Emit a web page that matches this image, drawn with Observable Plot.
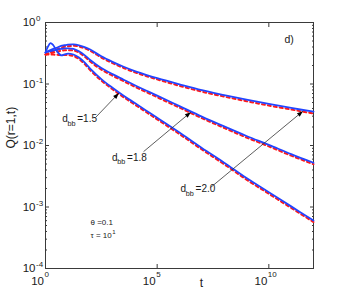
<!DOCTYPE html>
<html><head><meta charset="utf-8">
<script src="https://cdn.jsdelivr.net/npm/d3@7"></script>
<script src="https://cdn.jsdelivr.net/npm/@observablehq/plot@0.6"></script>
<style>body{margin:0;background:#fff} svg{display:block}</style>
</head><body><div id="chart"></div>
<script>
// log10(t) sample points
const logT = [0, 0.1, 0.22, 0.35, 0.5, 0.7, 0.85, 1.0, 1.25, 1.5, 1.75, 2, 2.5, 3, 3.5, 4, 4.5, 5, 6, 7, 8, 9, 10, 11, 12];
// log10 Q for each curve (blue solid)
const blue20 = [-0.488,-0.47,-0.45,-0.43,-0.41,-0.38,-0.37,-0.36,-0.355,-0.37,-0.40,-0.44,-0.55,-0.64,-0.72,-0.79,-0.85,-0.905,-1.005,-1.10,-1.18,-1.255,-1.325,-1.39,-1.45];
const blue18 = [-0.488,-0.475,-0.465,-0.455,-0.44,-0.43,-0.422,-0.42,-0.43,-0.47,-0.53,-0.61,-0.74,-0.84,-0.93,-1.02,-1.105,-1.19,-1.36,-1.53,-1.69,-1.845,-1.99,-2.14,-2.28];
const blue15 = [-0.488,-0.40,-0.337,-0.37,-0.46,-0.535,-0.52,-0.505,-0.52,-0.57,-0.65,-0.75,-0.92,-1.06,-1.19,-1.31,-1.43,-1.55,-1.79,-2.04,-2.28,-2.53,-2.76,-2.99,-3.22];
// log10 Q for each curve (red dashed)
const red20 = [-0.52,-0.505,-0.485,-0.465,-0.44,-0.41,-0.395,-0.385,-0.38,-0.39,-0.42,-0.46,-0.57,-0.66,-0.74,-0.81,-0.87,-0.925,-1.03,-1.125,-1.205,-1.28,-1.35,-1.415,-1.48];
const red18 = [-0.52,-0.51,-0.50,-0.49,-0.475,-0.46,-0.452,-0.45,-0.455,-0.49,-0.555,-0.635,-0.765,-0.865,-0.955,-1.045,-1.13,-1.215,-1.385,-1.555,-1.715,-1.87,-2.015,-2.165,-2.305];
const red15 = [-0.52,-0.52,-0.52,-0.522,-0.525,-0.53,-0.53,-0.53,-0.545,-0.595,-0.675,-0.775,-0.945,-1.085,-1.215,-1.335,-1.455,-1.575,-1.815,-2.065,-2.305,-2.555,-2.785,-3.015,-3.245];

// ticks
const yMajorExp = [0, -1, -2, -3, -4];
const yExpLabels = ["0", "-1", "-2", "-3", "-4"];
const xMajorExp = [0, 5, 10];
const xExpLabels = ["0", "5", "10"];

// annotations
const annLabels = ["=1.5", "=1.8", "=2.0"];
const annTextLogT = [0.75, 2.98, 6.05];
const annTextLogQ = [-1.618, -2.244, -2.759];
const arrowFromLogT = [2.24, 4.39, 7.39];
const arrowFromLogQ = [-1.545, -2.10, -2.683];
const arrowToLogT = [3.27, 6.49, 11.51];
const arrowToLogQ = [-1.154, -1.463, -1.447];

const rows = (vals, name) => logT.map((lt, i) => ({t: 10 ** lt, q: 10 ** vals[i], s: name}));
const blueData = [...rows(blue20, "b20"), ...rows(blue18, "b18"), ...rows(blue15, "b15")];
const redData = [...rows(red20, "r20"), ...rows(red18, "r18"), ...rows(red15, "r15")];

const yMajor = yMajorExp.map((e, i) => ({v: 10 ** e, lab: yExpLabels[i]}));
const yMinor = [];
for (let k = -4; k < 0; k++) for (let m = 2; m <= 9; m++) yMinor.push(m * 10 ** k);
const xMajor = xMajorExp.map((e, i) => ({v: 10 ** e, lab: xExpLabels[i]}));

const ann = annLabels.map((lab, i) => ({
  lab, tx: 10 ** annTextLogT[i], qy: 10 ** annTextLogQ[i],
  x1: 10 ** arrowFromLogT[i], y1: 10 ** arrowFromLogQ[i],
  x2: 10 ** arrowToLogT[i], y2: 10 ** arrowToLogQ[i]
}));

const font = "'Liberation Sans', Arial, Helvetica, sans-serif";
const ink = "#1a1a1a";

// filled arrowhead marker
function filledArrow(color) {
  const ns = "http://www.w3.org/2000/svg";
  const m = d3.select(document.createElementNS(ns, "marker"))
    .attr("viewBox", "-6 -5 10 10")
    .attr("markerWidth", 10).attr("markerHeight", 10)
    .attr("markerUnits", "userSpaceOnUse")
    .attr("orient", "auto")
    .attr("fill", "#000").attr("stroke", "none");
  m.append("path").attr("d", "M-5.5,-2.2L0.5,0L-5.5,2.2Z");
  return m.node();
}

const chart = Plot.plot({
  width: 346, height: 302,
  marginLeft: 45, marginRight: 33, marginTop: 22, marginBottom: 34,
  style: {background: "#fff", fontFamily: font, color: ink},
  x: {type: "log", domain: [1, 1e12], axis: null},
  y: {type: "log", domain: [1e-4, 1], axis: null},
  marks: [
    Plot.frame({stroke: "#3a3a3a", strokeWidth: 1}),
    Plot.axisY(yMajor.map(d => d.v), {anchor: "left", tickSize: -4, tickFormat: () => "", stroke: "#3a3a3a", label: null}),
    Plot.axisY(yMajor.map(d => d.v), {anchor: "right", tickSize: -4, tickFormat: () => "", stroke: "#3a3a3a", label: null}),
    Plot.axisY(yMinor, {anchor: "left", tickSize: -2, tickFormat: () => "", stroke: "#3a3a3a", label: null}),
    Plot.axisY(yMinor, {anchor: "right", tickSize: -2, tickFormat: () => "", stroke: "#3a3a3a", label: null}),
    Plot.axisX(xMajor.map(d => d.v), {anchor: "bottom", tickSize: -4, tickFormat: () => "", stroke: "#3a3a3a", label: null}),
    Plot.axisX(xMajor.map(d => d.v), {anchor: "top", tickSize: -4, tickFormat: () => "", stroke: "#3a3a3a", label: null}),
    // y tick labels
    Plot.text(yMajor, {frameAnchor: "left", y: "v", text: () => "10", textAnchor: "end", dx: -10, fontSize: 11.5, fill: ink}),
    Plot.text(yMajor, {frameAnchor: "left", y: "v", text: "lab", textAnchor: "start", dx: -9.5, dy: -1.5, lineAnchor: "bottom", fontSize: 8, fill: ink}),
    // x tick labels
    Plot.text(xMajor, {frameAnchor: "bottom", x: "v", text: () => "10", textAnchor: "end", dx: -1.5, dy: 16, lineAnchor: "bottom", fontSize: 11.5, fill: ink}),
    Plot.text(xMajor, {frameAnchor: "bottom", x: "v", text: "lab", textAnchor: "start", dx: -1, dy: 8.5, lineAnchor: "bottom", fontSize: 8, fill: ink}),
    // axis labels
    Plot.text(["t"], {x: 10 ** 6.985, frameAnchor: "bottom", dy: 18, lineAnchor: "bottom", fontSize: 12, fill: ink}),
    Plot.text(["Q(r=1,t)"], {frameAnchor: "left", rotate: -90, dx: -30.5, dy: 3, lineAnchor: "bottom", fontSize: 12, fill: ink}),
    // curves
    Plot.line(redData, {x: "t", y: "q", z: "s", stroke: "#ff1a1a", strokeWidth: 2, strokeDasharray: "3,3", curve: "monotone-x"}),
    Plot.line(blueData, {x: "t", y: "q", z: "s", stroke: "#2244ff", strokeWidth: 1.8, curve: "catmull-rom"}),
    // annotations
    Plot.link(ann, {x1: "x1", y1: "y1", x2: "x2", y2: "y2", stroke: "#333", strokeWidth: 0.8, markerEnd: filledArrow}),
    Plot.text(ann, {x: "tx", y: "qy", text: () => "d", textAnchor: "start", lineAnchor: "bottom", fontSize: 10, fill: ink}),
    Plot.text(ann, {x: "tx", y: "qy", text: () => "bb", textAnchor: "start", lineAnchor: "bottom", dx: 5.2, dy: 3.5, fontSize: 7.2, fill: ink}),
    Plot.text(ann, {x: "tx", y: "qy", text: "lab", textAnchor: "start", lineAnchor: "bottom", dx: 15, fontSize: 10, fill: ink}),
    Plot.text(["d)"], {x: 10 ** 10.70, y: 10 ** -0.33, textAnchor: "start", lineAnchor: "bottom", fontSize: 10.5, fill: ink}),
    Plot.text(["\u03b8 =0.1"], {x: 10 ** 2.015, y: 10 ** -3.30, textAnchor: "start", lineAnchor: "bottom", fontSize: 8, fill: ink}),
    Plot.text(["\u03c4 = 10"], {x: 10 ** 2.015, y: 10 ** -3.496, textAnchor: "start", lineAnchor: "bottom", fontSize: 8, fill: ink}),
    Plot.text(["1"], {x: 10 ** 2.015, y: 10 ** -3.496, textAnchor: "start", lineAnchor: "bottom", dx: 21.7, dy: -3.5, fontSize: 6, fill: ink})
  ]
});
document.getElementById("chart").appendChild(chart);
</script>
</body></html>
